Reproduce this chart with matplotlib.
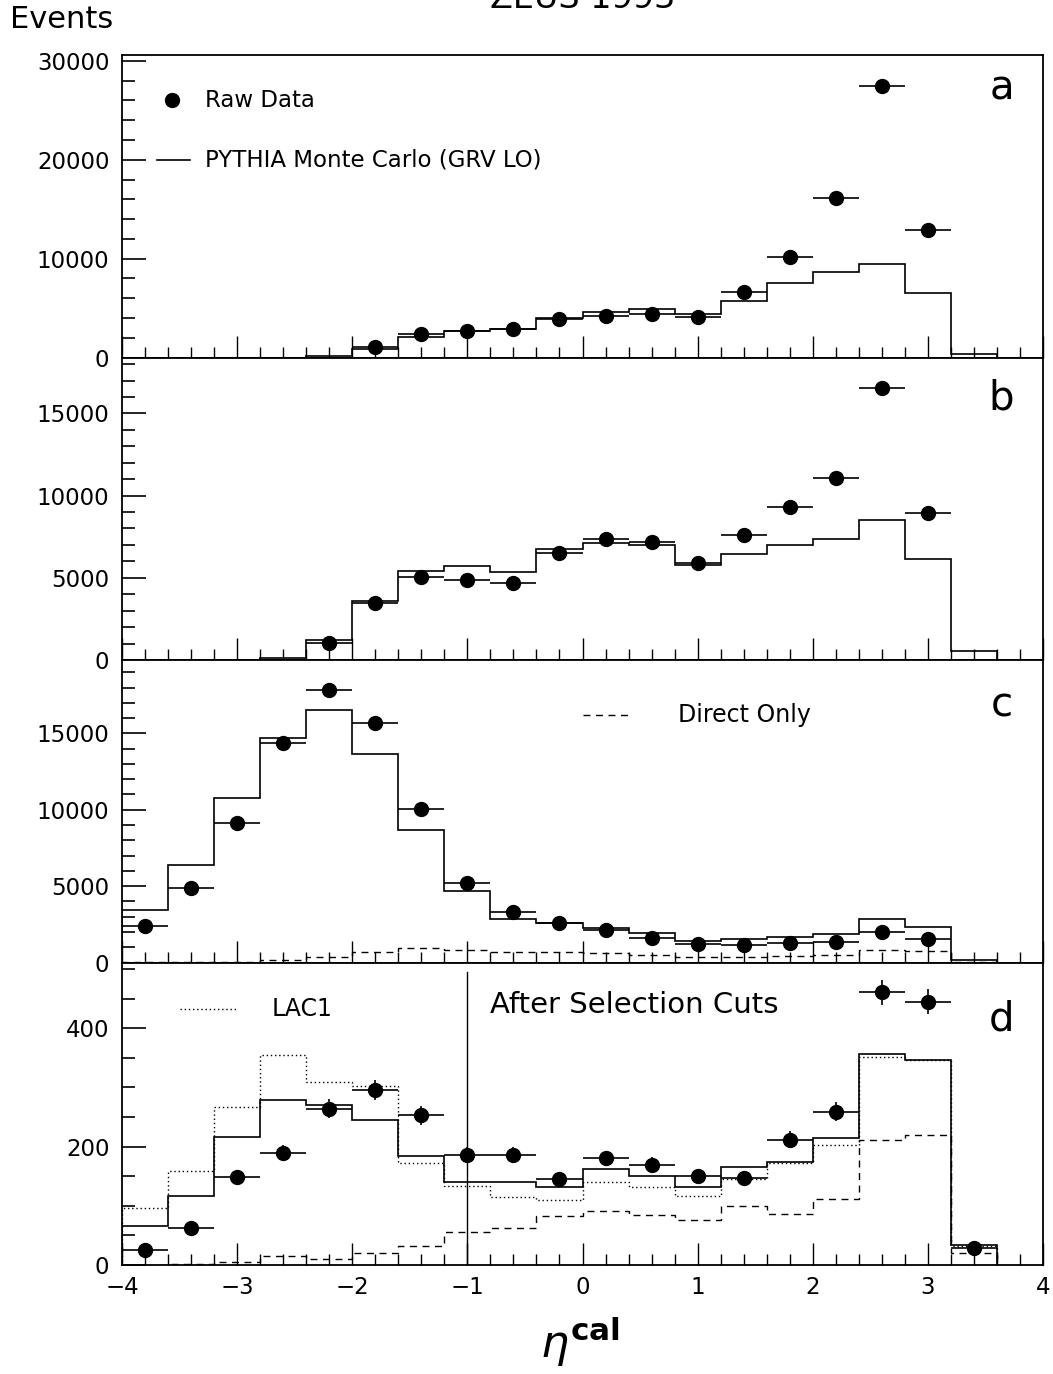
import matplotlib

matplotlib.use("Agg")
import matplotlib.pyplot as plt  # noqa: E402
from matplotlib.ticker import MultipleLocator  # noqa: E402

plt.rcParams.update({
    "font.family": "DejaVu Sans",
    "xtick.direction": "in", "ytick.direction": "in",
    "axes.linewidth": 1.3,
})

# eta^cal bins (width 0.4) shared by every panel
ETA_EDGES = [-4.0, -3.6, -3.2, -2.8, -2.4, -2.0, -1.6, -1.2, -0.8, -0.4, 0.0,
             0.4, 0.8, 1.2, 1.6, 2.0, 2.4, 2.8, 3.2, 3.6]
ETA_CENTERS = [-3.8, -3.4, -3.0, -2.6, -2.2, -1.8, -1.4, -1.0, -0.6, -0.2, 0.2,
               0.6, 1.0, 1.4, 1.8, 2.2, 2.6, 3.0, 3.4]

# panel a
A_MC = [0, 0, 0, 0, 135, 900, 2030, 2660, 2880, 3990, 4650, 4880, 4410, 5690,
        7565, 8670, 9450, 6520, 310]
A_ETA = ETA_CENTERS[5:18]
A_DATA = [1100, 2400, 2700, 2870, 3880, 4150, 4400, 4050, 6650, 10200, 16120,
          27450, 12880]

# panel b
B_MC = [0, 0, 0, 140, 1235, 3600, 5425, 5690, 5340, 6740, 7100, 7020, 5790,
        6460, 7020, 7350, 8500, 6150, 550]
B_ETA = ETA_CENTERS[4:18]
B_DATA = [1030, 3480, 5020, 4840, 4680, 6480, 7390, 7200, 5910, 7590, 9310,
          11070, 16520, 8970]

# panel c
C_MC = [3430, 6380, 10740, 14670, 16550, 13670, 8690, 4690, 2880, 2580, 2290,
        1920, 1400, 1530, 1660, 1860, 2840, 2310, 175]
C_DIRECT = [20, 20, 65, 175, 390, 720, 940, 850, 720, 720, 610, 480, 390, 390,
            415, 500, 830, 760, 45]
C_ETA = ETA_CENTERS[0:18]
C_DATA = [2360, 4890, 9100, 14370, 17820, 15700, 10070, 5220, 3280, 2560, 2120,
          1620, 1180, 1140, 1270, 1310, 1970, 1550]

# panel d (after selection cuts)
D_MC = [66, 117, 217, 279, 271, 245, 184, 141, 140, 131, 162, 151, 132, 165,
        174, 214, 356, 347, 34]
D_LAC1 = [97, 158, 267, 354, 309, 302, 173, 133, 115, 110, 140, 132, 117, 145,
          173, 202, 351, 346, 32]
D_DIRECT = [0, 1, 5, 15, 10, 20, 32, 56, 62, 83, 91, 85, 76, 99, 86, 112, 211,
            220, 20]
D_ETA = ETA_CENTERS
D_DATA = [26, 62, 149, 189, 264, 295, 253, 186, 186, 145, 180, 169, 150, 147,
          212, 259, 461, 445, 28]
D_ERR = [5, 8, 12, 14, 16, 17, 16, 14, 14, 12, 13, 13, 12, 12, 15, 16, 21, 21, 5]

W, H = 1053, 1374
fig = plt.figure(figsize=(W / 100, H / 100), dpi=100)

LEFT, RIGHT = 122, 1043
PANEL_TOPS = [55, 357.5, 660, 962.5]
PANEL_H = 302.5


def make_ax(top):
    ax = fig.add_axes([LEFT / W, 1 - (top + PANEL_H) / H,
                       (RIGHT - LEFT) / W, PANEL_H / H])
    ax.set_xlim(-4, 4)
    ax.xaxis.set_major_locator(MultipleLocator(1))
    ax.xaxis.set_minor_locator(MultipleLocator(0.2))
    ax.tick_params(axis="x", which="major", length=16, width=1)
    ax.tick_params(axis="x", which="minor", length=8, width=1)
    ax.tick_params(axis="y", which="major", length=17, width=1.2,
                   labelsize=16.5, pad=9)
    ax.tick_params(axis="y", which="minor", length=9, width=1.2)
    return ax


def draw(ax, eta, data, mc, yerr=None):
    ax.stairs(mc, ETA_EDGES, color="black", lw=1.2)
    ax.errorbar(eta, data, xerr=0.2, yerr=yerr, fmt="o", color="black",
                ms=10, elinewidth=1.2, capsize=0, zorder=5)


ax_a, ax_b, ax_c, ax_d = (make_ax(t) for t in PANEL_TOPS)

draw(ax_a, A_ETA, A_DATA, A_MC)
ax_a.set_ylim(0, 30600)
ax_a.yaxis.set_major_locator(MultipleLocator(10000))
ax_a.yaxis.set_minor_locator(MultipleLocator(2000))

draw(ax_b, B_ETA, B_DATA, B_MC)
ax_b.set_ylim(0, 18400)
ax_b.yaxis.set_major_locator(MultipleLocator(5000))
ax_b.yaxis.set_minor_locator(MultipleLocator(1000))

draw(ax_c, C_ETA, C_DATA, C_MC)
ax_c.stairs(C_DIRECT, ETA_EDGES, color="black", lw=1.0, ls=(0, (5, 4)))
ax_c.set_ylim(0, 19800)
ax_c.yaxis.set_major_locator(MultipleLocator(5000))
ax_c.yaxis.set_minor_locator(MultipleLocator(1000))

draw(ax_d, D_ETA, D_DATA, D_MC, yerr=D_ERR)
ax_d.stairs(D_LAC1, ETA_EDGES, color="black", lw=1.0, ls=(0, (1, 2)))
ax_d.stairs(D_DIRECT, ETA_EDGES, color="black", lw=1.0, ls=(0, (5, 4)))
ax_d.axvline(-1, ymin=0, ymax=0.97, color="black", lw=1.0)
ax_d.set_ylim(0, 511)
ax_d.yaxis.set_major_locator(MultipleLocator(200))
ax_d.yaxis.set_minor_locator(MultipleLocator(50))

for ax in (ax_a, ax_b, ax_c):
    ax.tick_params(axis="x", labelbottom=False)
ax_d.tick_params(axis="x", labelsize=16.5, pad=8)

# legends, drawn by hand the way the original does
ax_a.plot([0.054], [0.851], "o", color="black", ms=10,
          transform=ax_a.transAxes)
ax_a.text(0.090, 0.851, "Raw Data", transform=ax_a.transAxes,
          fontsize=16.5, va="center")
ax_a.plot([0.038, 0.074], [0.652, 0.652], color="black", lw=1.2,
          transform=ax_a.transAxes)
ax_a.text(0.090, 0.652, "PYTHIA Monte Carlo (GRV LO)",
          transform=ax_a.transAxes, fontsize=16.5, va="center")

ax_c.plot([0.50, 0.555], [0.818, 0.818], color="black", lw=1.0,
          ls=(0, (5, 4)), transform=ax_c.transAxes)
ax_c.text(0.604, 0.818, "Direct Only", transform=ax_c.transAxes,
          fontsize=17, va="center")

ax_d.plot([0.063, 0.126], [0.845, 0.845], color="black", lw=1.0,
          ls=(0, (1, 2)), transform=ax_d.transAxes)
ax_d.text(0.163, 0.845, "LAC1", transform=ax_d.transAxes,
          fontsize=17, va="center")
ax_d.text(0.40, 0.858, "After Selection Cuts", transform=ax_d.transAxes,
          fontsize=21, va="center")

for ax, letter, y in ((ax_a, "a", 0.89), (ax_b, "b", 0.865),
                      (ax_c, "c", 0.848), (ax_d, "d", 0.81)):
    ax.text(0.955, y, letter, transform=ax.transAxes, fontsize=29,
            ha="center", va="center")

fig.text(10 / W, 1 - 20 / H, "Events", fontsize=22, va="center")
# the run title sits mostly above the page edge, as in the original scan
fig.text(583 / W, 1 - 8 / H, "ZEUS 1993", fontsize=24, ha="center",
         va="baseline")
fig.text(580 / W, 1 - 1342 / H, r"$\eta^{\mathbf{cal}}$", fontsize=32,
         ha="center", va="center")

fig.savefig("out.png", dpi=100)
